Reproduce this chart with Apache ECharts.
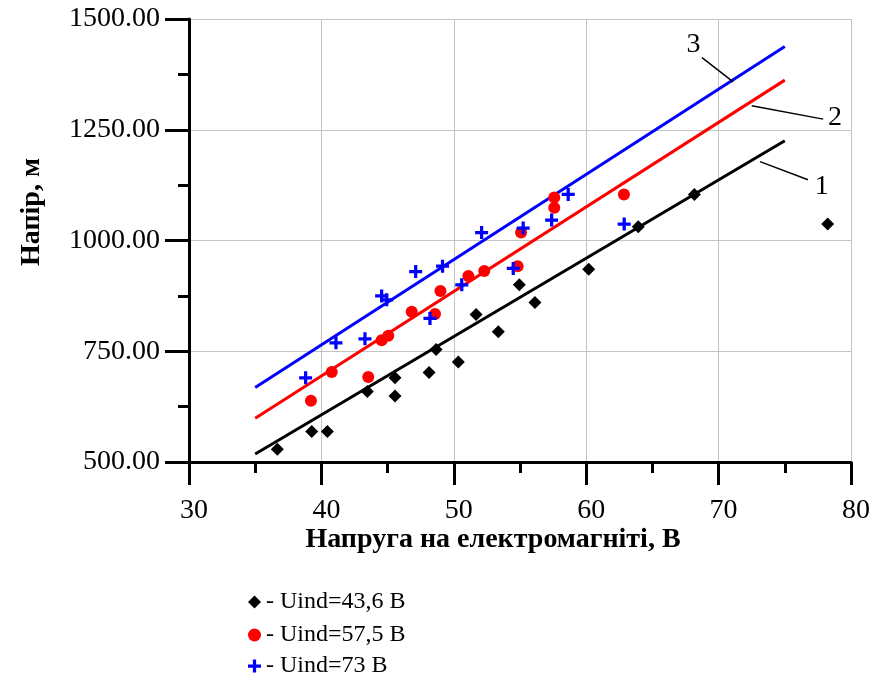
<!DOCTYPE html>
<html>
<head>
<meta charset="utf-8">
<script src="https://cdn.jsdelivr.net/npm/echarts@6/dist/echarts.min.js"></script>
<style>html,body{margin:0;padding:0;background:#fff;}#c{width:879px;height:679px;}</style>
</head>
<body>
<div id="c"></div>
<script>
// ---- data ----
const seriesNames = ['- Uind=43,6 В', '- Uind=57,5 В', '- Uind=73 В'];
const blackX = [36.67, 39.27, 40.45, 43.47, 45.56, 45.56, 48.13, 48.66, 50.34, 51.68, 53.36, 54.95, 56.13, 60.19, 63.93, 68.17, 78.24];
const blackY = [529, 569, 569, 659, 690, 649, 702, 754, 726, 833, 794, 900, 860, 935, 1031, 1104, 1037];
const redX = [39.21, 40.78, 43.54, 44.55, 45.05, 46.82, 48.58, 48.99, 51.1, 52.3, 54.82, 55.08, 57.59, 57.59, 62.85];
const redY = [638, 703, 692, 775, 785, 839, 834, 886, 920, 931, 942, 1018, 1097, 1074, 1104];
const blueX = [38.81, 41.1, 43.29, 44.55, 44.93, 47.12, 48.2, 49.15, 50.6, 52.1, 54.49, 55.24, 57.39, 58.64, 62.87];
const blueY = [690, 769, 778, 875, 866, 930, 824, 942, 900, 1018, 937, 1028, 1046, 1104, 1037];
// fitted lines (end points)
const fitX = [35, 75];
const fit1Y = [518, 1225];
const fit2Y = [599, 1362];
const fit3Y = [668, 1438];
const yTicks = [500, 750, 1000, 1250, 1500];
const xTicks = [30, 40, 50, 60, 70, 80];
const curveLabels = ['1', '2', '3'];

const zip = (xs, ys) => xs.map((x, i) => [x, ys[i]]);
const FONT = "'Liberation Serif','Times New Roman',serif";
const crossPath = 'path://M9,0h6v9h9v6h-9v9h-6v-9h-9v-6h9z';
const icons = ['diamond', 'circle', crossPath];
const legendTops = [590, 623, 654];

const chart = echarts.init(document.getElementById('c'));

// annotation leaders: [from, to] in data coords and label anchor, for curves 1,2,3
const annot = [
  {from: [73.13, 1178], to: [76.75, 1137], text: [77.8, 1121]},
  {from: [72.5, 1304], to: [77.9, 1274], text: [78.8, 1277]},
  {from: [68.75, 1413], to: [71.1, 1358], text: [68.1, 1441]}
];

const option = {
  animation: false,
  backgroundColor: '#fff',
  grid: {left: 189, right: 28, top: 19, bottom: 217, containLabel: false},
  xAxis: {
    type: 'value', min: xTicks[0], max: xTicks[xTicks.length - 1], interval: 10,
    axisLine: {show: true, onZero: false, lineStyle: {color: '#000', width: 3}},
    axisTick: {show: true, length: 23, lineStyle: {color: '#000', width: 3}},
    minorTick: {show: true, splitNumber: 2, length: 11, lineStyle: {color: '#000', width: 3}},
    splitLine: {show: true, lineStyle: {color: '#c4c4c4', width: 1}},
    axisLabel: {margin: 35, fontFamily: FONT, fontSize: 28, color: '#000', padding: [0, 0, 0, 10], showMinLabel: true, showMaxLabel: true}
  },
  yAxis: {
    type: 'value', min: yTicks[0], max: yTicks[yTicks.length - 1], interval: 250,
    axisLine: {show: true, onZero: false, lineStyle: {color: '#000', width: 3}},
    axisTick: {show: true, length: 24, lineStyle: {color: '#000', width: 3}},
    minorTick: {show: true, splitNumber: 2, length: 11, lineStyle: {color: '#000', width: 3}},
    splitLine: {show: true, lineStyle: {color: '#c4c4c4', width: 1}},
    axisLabel: {margin: 29, fontFamily: FONT, fontSize: 28, color: '#000', formatter: v => v.toFixed(2)}
  },
  legend: seriesNames.map((n, i) => ({
    orient: 'vertical', left: 248, top: legendTops[i], padding: 0, itemWidth: 13, itemHeight: 13,
    textStyle: {fontFamily: FONT, fontSize: 24, lineHeight: 20, color: '#000'},
    data: [{name: n, icon: icons[i]}]
  })),
  series: [
    {type: 'line', data: zip(fitX, fit1Y), showSymbol: false, lineStyle: {color: '#000', width: 3}, z: 2, silent: true},
    {type: 'line', data: zip(fitX, fit2Y), showSymbol: false, lineStyle: {color: '#ff0000', width: 3}, z: 2, silent: true},
    {type: 'line', data: zip(fitX, fit3Y), showSymbol: false, lineStyle: {color: '#0000ff', width: 3}, z: 2, silent: true},
    {name: seriesNames[0], type: 'scatter', symbol: 'diamond', symbolSize: 13, itemStyle: {color: '#000', opacity: 1}, data: zip(blackX, blackY), z: 5},
    {name: seriesNames[1], type: 'scatter', symbol: 'circle', symbolSize: 12, itemStyle: {color: '#ff0000', opacity: 1}, data: zip(redX, redY), z: 5},
    {name: seriesNames[2], type: 'scatter', symbol: crossPath, symbolSize: 13, itemStyle: {color: '#0000ff', opacity: 1}, data: zip(blueX, blueY), z: 5},
    {
      type: 'line', data: [], silent: true,
      markLine: {
        silent: true, symbol: 'none', animation: false,
        lineStyle: {color: '#000', width: 1.5, type: 'solid'}, label: {show: false},
        data: annot.map(a => [{coord: a.from}, {coord: a.to}])
      }
    }
  ]
};
chart.setOption(option);

const g = [];
annot.forEach((a, i) => {
  const p = chart.convertToPixel({gridIndex: 0}, a.text);
  g.push({type: 'text', x: p[0], y: p[1], z: 10,
    style: {text: curveLabels[i], font: '28px ' + FONT, fill: '#000', textAlign: 'center', textVerticalAlign: 'middle'}});
});
g.push({type: 'text', x: 493, y: 540, z: 10,
  style: {text: 'Напруга на електромагніті, В', font: 'bold 28px ' + FONT, fill: '#000', textAlign: 'center', textVerticalAlign: 'middle'}});
g.push({type: 'text', x: 32, y: 212, rotation: Math.PI / 2, z: 10,
  style: {text: 'Напір, м', font: 'bold 28px ' + FONT, fill: '#000', textAlign: 'center', textVerticalAlign: 'middle'}});
chart.setOption({graphic: g});
</script>
</body>
</html>
